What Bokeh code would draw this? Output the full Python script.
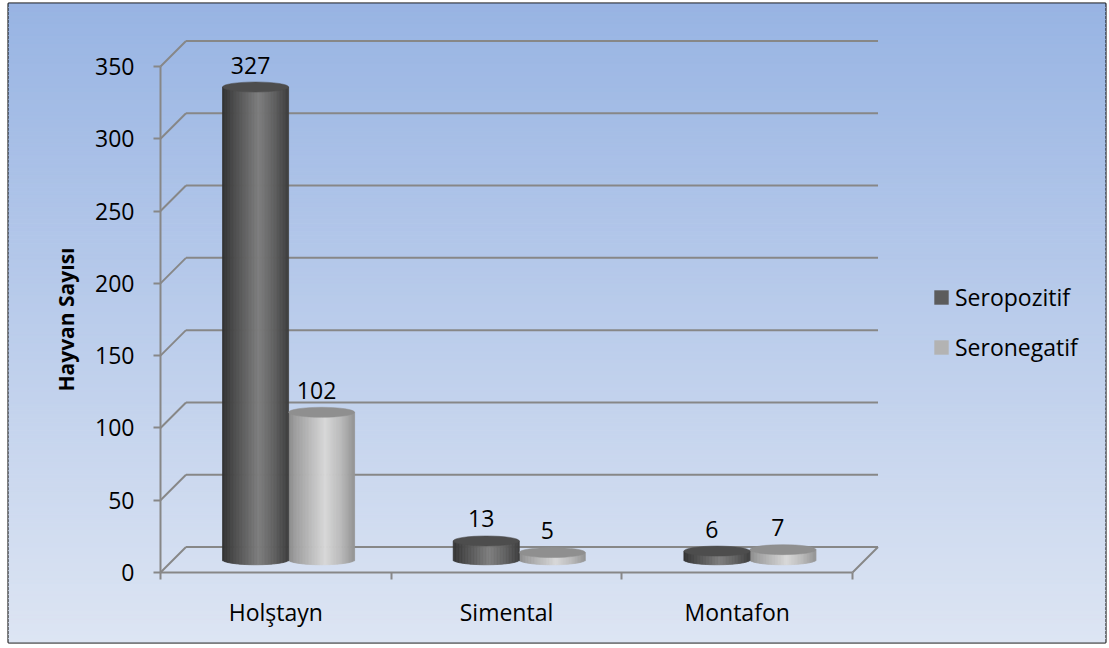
import numpy as np
from bokeh.plotting import figure
from bokeh.models import (Range1d, LinearAxis, FixedTicker, Legend, LegendItem,
                          CustomJSTickFormatter)
from bokeh.core.properties import value
from bokeh.embed import file_html
from bokeh.resources import INLINE

# ---------------- data ----------------
categories = ["Holştayn", "Simental", "Montafon"]
series_names = ["Seropozitif", "Seronegatif"]
seropozitif = [327, 13, 6]
seronegatif = [102, 5, 7]
y_ticks = [0, 50, 100, 150, 200, 250, 300, 350]
y_title = "Hayvan Sayısı"

# ---------------- layout / style ----------------
W, H = 1109, 648
BL, BT, BR, BB = 8, 3, 4, 6
FW = W - BL - BR
FH = H - BT - BB
X0_PX = 160 - BL           # frame px of category-axis start
PX_PER_CAT = 230.67
Y0_PX = 572 - BT           # frame px (from top) of value 0
PX_PER_UNIT = 506.0 / 350.0

x_start = -X0_PX / PX_PER_CAT
x_end = x_start + FW / PX_PER_CAT
y_end = Y0_PX / PX_PER_UNIT
y_start = y_end - FH / PX_PER_UNIT

DX = 25.5 / PX_PER_CAT     # depth offset
DY = 25.5 / PX_PER_UNIT
CW = 66.0 / PX_PER_CAT     # cylinder width
EB = 5.0 / PX_PER_UNIT     # ellipse semi-height

GRID = "#878787"
FONT = "Open Sans"
FS = "23px"
BG_TOP = (152, 180, 227)
BG_BOT = (221, 229, 243)

DARK_STOPS = [(0.0, 50), (0.12, 68), (0.55, 126), (0.78, 98), (1.0, 62)]
LIGHT_STOPS = [(0.0, 138), (0.12, 160), (0.56, 216), (0.8, 186), (1.0, 148)]
DARK_TOP = "#4d4d4d"
LIGHT_TOP = "#8f8f8f"
LEG_COLORS = ["#5c5c5c", "#b3b3b3"]


def gray(g):
    g = int(round(g))
    return "#%02x%02x%02x" % (g, g, g)


def shade(stops, t):
    ts = [s[0] for s in stops]
    gs = [s[1] for s in stops]
    return gray(np.interp(t, ts, gs))


p = figure(width=W, height=H, x_range=Range1d(x_start, x_end),
           y_range=Range1d(y_start, y_end), output_backend="svg",
           toolbar_location=None, x_axis_type=None, y_axis_type=None,
           min_border_left=BL, min_border_right=BR, min_border_top=BT,
           min_border_bottom=BB)
p.outline_line_color = "black"
p.outline_line_width = 2
p.border_fill_color = "white"
p.background_fill_color = None

# background gradient
NB = 160
edges = np.linspace(y_start, y_end, NB + 1)
bg_cols = []
for k in range(NB):
    t = (k + 0.5) / NB          # 0 bottom -> 1 top
    c = [int(round(BG_BOT[j] + (BG_TOP[j] - BG_BOT[j]) * t)) for j in range(3)]
    bg_cols.append("#%02x%02x%02x" % tuple(c))
p.quad(left=x_start - 1, right=x_end + 1, bottom=edges[:-1], top=edges[1:],
       fill_color=bg_cols, line_color=bg_cols, line_width=1)

# walls: back gridlines, side diagonals, floor right edge
ncat = len(categories)
yt = np.array(y_ticks, dtype=float)
p.segment(x0=[DX] * len(yt), y0=yt + DY, x1=[ncat + DX] * len(yt), y1=yt + DY,
          line_color=GRID, line_width=2)
p.segment(x0=[0] * len(yt), y0=yt, x1=[DX] * len(yt), y1=yt + DY,
          line_color=GRID, line_width=2)
p.segment(x0=[ncat], y0=[0], x1=[ncat + DX], y1=[DY], line_color=GRID, line_width=2)

# cylinders
NS = 44
sl, sr, sb, st, sc = [], [], [], [], []
tx, ty, tc = [], [], []
lab_x, lab_y, lab_t = [], [], []
for vals, stops, topc, side in [(seronegatif, LIGHT_STOPS, LIGHT_TOP, 0.5),
                                (seropozitif, DARK_STOPS, DARK_TOP, -0.5)]:
    for i, v in enumerate(vals):
        cx = i + 0.5 + DX / 2 + side * CW
        base = DY / 2
        top = v + DY / 2
        for k in range(NS):
            t0, t1, tm = k / NS, (k + 1) / NS, (k + 0.5) / NS
            u = 2 * tm - 1
            sl.append(cx - CW / 2 + t0 * CW)
            sr.append(cx - CW / 2 + t1 * CW)
            sb.append(base - EB * np.sqrt(max(0.0, 1 - u * u)))
            st.append(top)
            sc.append(shade(stops, tm))
        tx.append(cx)
        ty.append(top)
        tc.append(topc)
        lab_x.append(cx)
        lab_y.append(top)
        lab_t.append(str(v))

p.quad(left=sl, right=sr, bottom=sb, top=st, fill_color=sc, line_color=sc,
       line_width=0.8)
p.ellipse(x=tx, y=ty, width=CW, height=2 * EB, fill_color=tc, line_color=tc,
          line_width=0.5)

# value labels
p.text(x=lab_x, y=lab_y, text=lab_t, text_align="center",
       text_baseline="alphabetic", x_offset=-5, y_offset=-22,
       text_font=value(FONT), text_font_size=FS, text_color="black")

# y axis
yaxis = LinearAxis(fixed_location=0, bounds=(y_ticks[0], y_ticks[-1]),
                   ticker=FixedTicker(ticks=y_ticks, minor_ticks=[]))
yaxis.axis_line_color = GRID
yaxis.axis_line_width = 2
yaxis.major_tick_line_color = GRID
yaxis.major_tick_line_width = 2
yaxis.major_tick_in = 0
yaxis.major_tick_out = 7
yaxis.minor_tick_line_color = None
yaxis.major_label_text_font = FONT
yaxis.major_label_text_font_size = FS
yaxis.major_label_text_color = "black"
yaxis.major_label_standoff = 19
yaxis.axis_label = y_title
yaxis.axis_label_text_font = FONT
yaxis.axis_label_text_font_size = "21px"
yaxis.axis_label_text_font_style = "bold"
yaxis.axis_label_text_color = "black"
yaxis.axis_label_standoff = 12
p.add_layout(yaxis, "left")

# x axis: tick marks at category boundaries
xaxis = LinearAxis(fixed_location=0, bounds=(0, ncat),
                   ticker=FixedTicker(ticks=list(range(ncat + 1)), minor_ticks=[]))
xaxis.axis_line_color = GRID
xaxis.axis_line_width = 2
xaxis.major_tick_line_color = GRID
xaxis.major_tick_line_width = 2
xaxis.major_tick_in = 0
xaxis.major_tick_out = 7
xaxis.minor_tick_line_color = None
xaxis.major_label_text_color = None
p.add_layout(xaxis, "below")

# x axis: category labels
xlab = LinearAxis(fixed_location=0,
                  ticker=FixedTicker(ticks=[i + 0.5 for i in range(ncat)], minor_ticks=[]),
                  formatter=CustomJSTickFormatter(args=dict(cats=categories),
                                                  code="return cats[Math.floor(tick)] || '';"))
xlab.axis_line_color = None
xlab.major_tick_line_color = None
xlab.minor_tick_line_color = None
xlab.major_tick_in = 0
xlab.major_tick_out = 0
xlab.major_label_text_font = FONT
xlab.major_label_text_font_size = FS
xlab.major_label_text_color = "black"
xlab.major_label_standoff = 23
p.add_layout(xlab, "below")

# legend (proxy renderers with one non-drawable point each)
r1 = p.quad(left=[np.nan], right=[np.nan], top=[np.nan], bottom=[np.nan],
            fill_color=LEG_COLORS[0], line_color=None)
r2 = p.quad(left=[np.nan], right=[np.nan], top=[np.nan], bottom=[np.nan],
            fill_color=LEG_COLORS[1], line_color=None)
legend = Legend(items=[LegendItem(label=series_names[0], renderers=[r1]),
                       LegendItem(label=series_names[1], renderers=[r2])],
                location=(924, 279), orientation="vertical",
                glyph_width=18, glyph_height=18, label_standoff=5, spacing=18,
                padding=0, margin=0, border_line_color=None,
                background_fill_alpha=0, label_text_font=FONT,
                label_text_font_size=FS, label_text_color="black",
                label_height=30)
p.add_layout(legend)

open("out.html", "w").write(file_html(p, INLINE))
